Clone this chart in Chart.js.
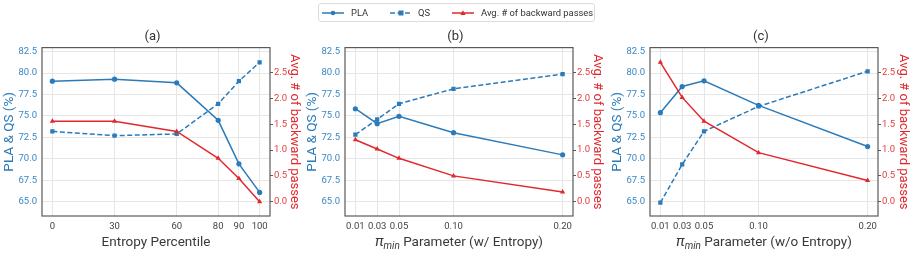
<!DOCTYPE html>
<html>
<head>
<meta charset="utf-8">
<script src="https://cdn.jsdelivr.net/npm/chart.js@4.4.1/dist/chart.umd.min.js"></script>
<style>
  body { margin: 0; background: #fff; font-family: Roboto, sans-serif; }
  #wrap { position: relative; width: 914px; height: 253px; overflow: hidden; }
  canvas { position: absolute; top: 0; }
  #legend {
    position: absolute; left: 318px; top: 3px; height: 19px; width: 277px;
    border: 1px solid #dcdcdc; border-radius: 3px; box-sizing: border-box;
    font-size: 9.4px; color: #333; white-space: nowrap;
  }
  #legend svg, #legend span { position: absolute; }
  #legend svg { top: 5px; }
  #legend span { top: 3px; line-height: 12px; }
</style>
</head>
<body>
<div id="wrap">
  <canvas id="chartA" width="305" height="253" style="left:0px"></canvas>
  <canvas id="chartB" width="305" height="253" style="left:303px"></canvas>
  <canvas id="chartC" width="306" height="253" style="left:608px"></canvas>
  <div id="legend">
    <svg style="left:3px" width="22" height="8"><line x1="0" y1="4" x2="22" y2="4" stroke="#2b7bba" stroke-width="1.5"/><circle cx="11" cy="4" r="2.3" fill="#2b7bba"/></svg>
    <span style="left:32px">PLA</span>
    <svg style="left:71px" width="22" height="8"><line x1="0" y1="4" x2="22" y2="4" stroke="#2b7bba" stroke-width="1.5" stroke-dasharray="5,2.5"/><rect x="8.5" y="1.5" width="5" height="5" fill="#2b7bba"/></svg>
    <span style="left:99px">QS</span>
    <svg style="left:133px" width="22" height="8"><line x1="0" y1="4" x2="22" y2="4" stroke="#e0282e" stroke-width="1.5"/><polygon points="11,1.3 13.6,6 8.4,6" fill="#e0282e"/></svg>
    <span style="left:162px">Avg. # of backward passes</span>
  </div>
</div>
<script>
// panel (a)
const entropyPct = [0, 30, 60, 80, 90, 100];
const plaA = [79.05, 79.29, 78.86, 74.49, 69.41, 66.08];
const qsA = [73.2, 72.7, 72.9, 76.42, 79.05, 81.26];
const bwdA = [1.56, 1.56, 1.36, 0.84, 0.45, 0.0];

// panels (b) and (c)
const piMin = [0.01, 0.03, 0.05, 0.10, 0.20];
const plaB = [75.84, 74.1, 74.95, 73.05, 70.46];
const qsB = [72.82, 74.6, 76.42, 78.16, 79.87];
const bwdB = [1.2, 1.02, 0.84, 0.5, 0.19];
const plaC = [75.38, 78.43, 79.09, 76.23, 71.43];
const qsC = [64.88, 69.34, 73.2, 76.11, 80.21];
const bwdC = [2.7, 2.02, 1.56, 0.95, 0.41];

const leftTicks = [65, 67.5, 70, 72.5, 75, 77.5, 80, 82.5];
const rightTicks = [0, 0.5, 1, 1.5, 2, 2.5];

const BLUE = '#2b7bba';
const RED = '#e0282e';
const FONT = 'Roboto';

// frame around the plot area + x title with subscript
const framePlugin = {
  id: 'frame',
  afterDraw(chart, args, opts) {
    const { ctx, chartArea: a } = chart;
    ctx.save();
    ctx.strokeStyle = '#5a5a5a';
    ctx.lineWidth = 1.2;
    ctx.strokeRect(a.left, a.top, a.right - a.left, a.bottom - a.top);
    // x axis title
    const parts = opts.parts || [];
    const size = 13.5;
    let w = 0;
    const fonts = parts.map(p => {
      const f = (p.it ? 'italic ' : '') + (p.sub ? 10 : p.big ? 15 : size) + 'px ' + FONT;
      ctx.font = f;
      w += ctx.measureText(p.t).width;
      return f;
    });
    let x = (a.left + a.right) / 2 - w / 2;
    const y = 246;
    ctx.fillStyle = '#3a3a3a';
    ctx.textBaseline = 'alphabetic';
    ctx.textAlign = 'left';
    parts.forEach((p, i) => {
      ctx.font = fonts[i];
      ctx.fillText(p.t, x, p.sub ? y + 3 : y);
      x += ctx.measureText(p.t).width;
    });
    ctx.restore();
  }
};

function pts(xs, ys) {
  return xs.map((x, i) => ({ x: x, y: ys[i] }));
}

function makeChart(id, title, xs, pla, qs, bwd, xmin, xmax, fmt, parts, rightW) {
  return new Chart(document.getElementById(id), {
    type: 'line',
    data: {
      datasets: [
        {
          label: 'PLA', data: pts(xs, pla), yAxisID: 'y', order: 3,
          borderColor: BLUE, backgroundColor: BLUE, borderWidth: 1.5,
          pointStyle: 'circle', pointRadius: 2.6, pointBorderWidth: 0,
        },
        {
          label: 'QS', data: pts(xs, qs), yAxisID: 'y', order: 2,
          borderColor: BLUE, backgroundColor: BLUE, borderWidth: 1.5, borderDash: [5, 2.5],
          pointStyle: 'rect', pointRadius: 3, pointBorderWidth: 0,
        },
        {
          label: 'Avg. # of backward passes', data: pts(xs, bwd), yAxisID: 'y1', order: 1,
          borderColor: RED, backgroundColor: RED, borderWidth: 1.5,
          pointStyle: 'triangle', pointRadius: 3, pointBorderWidth: 0,
        },
      ],
    },
    options: {
      responsive: false,
      animation: false,
      layout: { padding: 0 },
      plugins: {
        legend: { display: false },
        tooltip: { enabled: false },
        title: {
          display: true, text: title, color: '#333',
          font: { family: FONT, size: 13, weight: 'normal' }, padding: { top: 29, bottom: 3 },
        },
        frame: { parts: parts },
      },
      scales: {
        x: {
          type: 'linear', min: xmin, max: xmax,
          afterBuildTicks: s => { s.ticks = xs.map(v => ({ value: v })); },
          afterFit: s => { s.height = 37; },
          border: { display: false },
          grid: { color: '#e6e6e6', tickLength: 3, tickColor: 'rgba(0,0,0,0)' },
          ticks: { color: '#444', padding: 2, maxRotation: 0, autoSkip: false,
                   font: { family: FONT, size: 9.5 }, callback: v => fmt(v) },
        },
        y: {
          position: 'left', min: 63.33, max: 82.97,
          afterBuildTicks: s => { s.ticks = leftTicks.map(v => ({ value: v })); },
          afterFit: s => { s.width = 42; },
          border: { display: false },
          grid: { color: '#e6e6e6', tickLength: 3, tickColor: 'rgba(0,0,0,0)' },
          ticks: { color: '#3a87c6', padding: 2, font: { family: FONT, size: 9.5 },
                   callback: v => v.toFixed(1) },
          title: { display: true, text: 'PLA & QS (%)', color: BLUE,
                   font: { family: FONT, size: 13.5 }, padding: { top: 2, bottom: 0 } },
        },
        y1: {
          position: 'right', min: -0.277, max: 2.985,
          afterBuildTicks: s => { s.ticks = rightTicks.map(v => ({ value: v })); },
          afterFit: s => { s.width = rightW; },
          border: { display: false },
          grid: { drawOnChartArea: false, tickLength: 3, tickColor: '#5a5a5a' },
          ticks: { color: '#e0403f', padding: 1, font: { family: FONT, size: 9.5 },
                   callback: v => v.toFixed(1) },
          title: { display: true, text: 'Avg. # of backward passes', color: RED,
                   font: { family: FONT, size: 13 }, padding: { top: 3, bottom: 0 } },
        },
      },
    },
    plugins: [framePlugin],
  });
}

const fmtInt = v => String(v);
const fmt2 = v => v.toFixed(2);

makeChart('chartA', '(a)', entropyPct, plaA, qsA, bwdA, -5, 105, fmtInt,
  [{ t: 'Entropy Percentile' }], 35);
makeChart('chartB', '(b)', piMin, plaB, qsB, bwdB, 0.0005, 0.2095, fmt2,
  [{ t: 'π', it: true, big: true }, { t: 'min', it: true, sub: true }, { t: ' Parameter (w/ Entropy)' }], 35);
makeChart('chartC', '(c)', piMin, plaC, qsC, bwdC, 0.0005, 0.2095, fmt2,
  [{ t: 'π', it: true, big: true }, { t: 'min', it: true, sub: true }, { t: ' Parameter (w/o Entropy)' }], 36);
</script>
</body>
</html>
